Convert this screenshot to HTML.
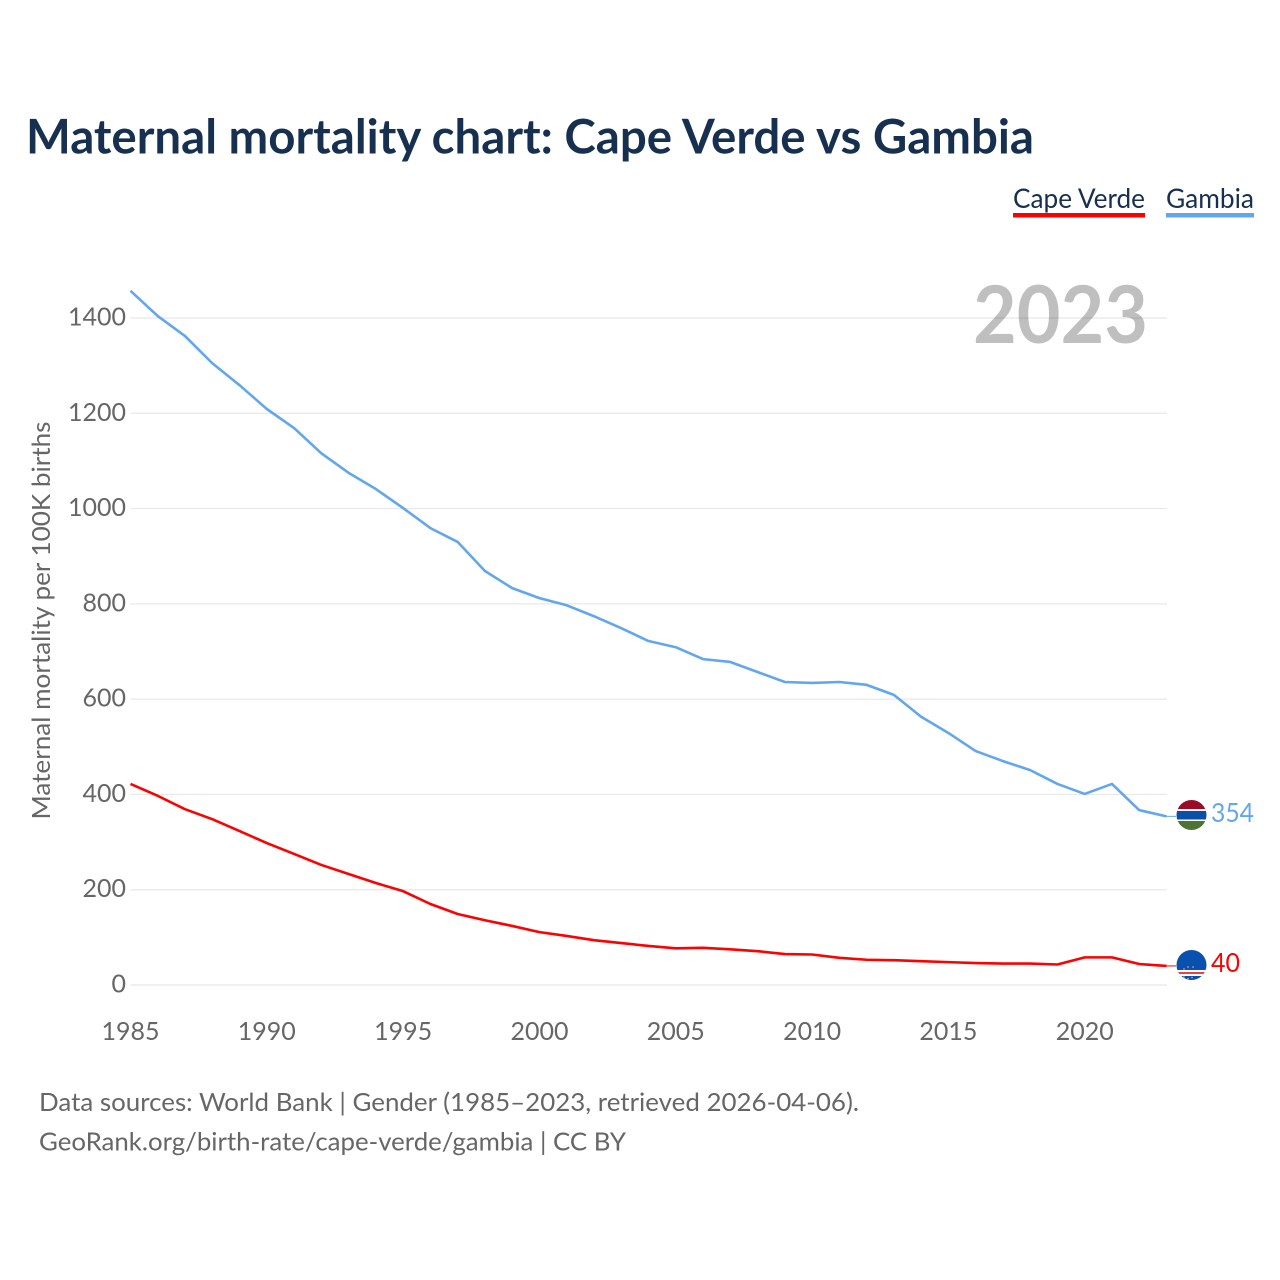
<!DOCTYPE html>
<html lang="en">
<head>
<meta charset="utf-8">
<title>Maternal mortality chart: Cape Verde vs Gambia</title>
<style>
html,body{margin:0;padding:0;background:#fff;width:1280px;height:1280px;overflow:hidden}
svg{display:block}
text{font-family:"Lato","Carlito","Liberation Sans",sans-serif}
</style>
</head>
<body>
<svg id="chart" width="1280" height="1280" viewBox="0 0 1280 1280" xmlns="http://www.w3.org/2000/svg">
  <defs>
    <clipPath id="clip-gm"><circle cx="1191.5" cy="815" r="15"/></clipPath>
    <clipPath id="clip-cv"><circle cx="1191.5" cy="965" r="15"/></clipPath>
  </defs>
  <rect width="1280" height="1280" fill="#fff"/>
  <text x="26" y="153.5" font-size="48" font-weight="700" fill="#17304f" textLength="1008" lengthAdjust="spacingAndGlyphs">Maternal mortality chart: Cape Verde vs Gambia</text>

  <g>
    <g>
      <text x="1013" y="208" font-size="27.5" fill="#17304f" textLength="132" lengthAdjust="spacingAndGlyphs">Cape Verde</text>
      <rect x="1013" y="213" width="132" height="4.5" fill="#ff0000"/>
    </g>
    <g>
      <text x="1166" y="208" font-size="27.5" fill="#17304f" textLength="88" lengthAdjust="spacingAndGlyphs">Gambia</text>
      <rect x="1166" y="213" width="88" height="4.5" fill="#62a6ee"/>
    </g>
  </g>

  <g id="grid"></g>
  <g id="y-ticks"></g>
  <g id="x-ticks"></g>

  <text transform="translate(50,620.5) rotate(-90)" text-anchor="middle" font-size="25.5" fill="#666" textLength="398" lengthAdjust="spacingAndGlyphs">Maternal mortality per 100K births</text>

  <text x="973" y="343" font-size="80" font-weight="700" fill="#000" fill-opacity="0.25" textLength="175" lengthAdjust="spacingAndGlyphs">2023</text>

  <g id="series"></g>

  <g clip-path="url(#clip-gm)">
    <rect x="1176" y="800" width="31" height="11" fill="#9c0a25"/>
    <rect x="1176" y="809" width="31" height="12" fill="#fff"/>
    <rect x="1176" y="811" width="31" height="8.5" fill="#0b50a8"/>
    <rect x="1176" y="821" width="31" height="10" fill="#4f7334"/>
  </g>
  <g clip-path="url(#clip-cv)">
    <rect x="1176" y="950" width="31" height="31" fill="#0a50ae"/>
    <rect x="1176" y="970" width="31" height="6" fill="#fff"/>
    <rect x="1176" y="972" width="31" height="2" fill="#e8414a"/>
    <g fill="#f2b27a">
      <circle cx="1184" cy="969" r="0.8"/>
      <circle cx="1188" cy="967" r="0.8"/>
      <circle cx="1193" cy="967" r="0.8"/>
      <circle cx="1184" cy="977" r="0.8"/>
      <circle cx="1188" cy="978.5" r="0.8"/>
      <circle cx="1192" cy="977.5" r="0.8"/>
    </g>
  </g>

  <text id="value-gm" x="1211" y="822" font-size="26" fill="#62a6ee" textLength="43" lengthAdjust="spacingAndGlyphs"></text>
  <text id="value-cv" x="1211" y="972" font-size="26" fill="#ff0000" textLength="29" lengthAdjust="spacingAndGlyphs"></text>

  <text x="39" y="1111" font-size="25.5" fill="#666" textLength="820" lengthAdjust="spacingAndGlyphs">Data sources: World Bank | Gender (1985–2023, retrieved 2026-04-06).</text>
  <text x="39" y="1150.5" font-size="25.5" fill="#666" textLength="587" lengthAdjust="spacingAndGlyphs">GeoRank.org/birth-rate/cape-verde/gambia | CC BY</text>
</svg>
<script>
const years = [1985,1986,1987,1988,1989,1990,1991,1992,1993,1994,1995,1996,1997,1998,1999,2000,2001,2002,2003,2004,2005,2006,2007,2008,2009,2010,2011,2012,2013,2014,2015,2016,2017,2018,2019,2020,2021,2022,2023];
const gambia = [1457,1404,1362,1305,1259,1209,1169,1116,1075,1041,1001,959,930,869,833,812,797,774,749,722,709,684,678,657,636,634,636,630,609,563,529,491,470,451,422,401,422,367,354];
const capeVerde = [422,397,369,348,323,298,275,252,233,214,197,170,149,136,124,111,103,94,88,82,77,78,75,71,65,64,57,53,52,50,48,46,45,45,43,58,58,44,40];
const yTickValues = [0,200,400,600,800,1000,1200,1400];
const xTickValues = [1985,1990,1995,2000,2005,2010,2015,2020];

const NS = 'http://www.w3.org/2000/svg';
function xScale(year) { return 130.5 + (year - 1985) * (1166.5 - 130.5) / 38; }
function yScale(value) { return 985 - value * (985 - 318) / 1400; }

const gridGroup = document.getElementById('grid');
const yTickGroup = document.getElementById('y-ticks');
const xTickGroup = document.getElementById('x-ticks');
const seriesGroup = document.getElementById('series');

yTickValues.forEach(function (v) {
  const line = document.createElementNS(NS, 'line');
  
  
  line.setAttribute('x1', 130.5);
  line.setAttribute('x2', 1167);
  line.setAttribute('y1', yScale(v));
  line.setAttribute('y2', yScale(v));
  line.setAttribute('stroke', '#e8e8e8');
  line.setAttribute('stroke-width', '1.2');
  gridGroup.appendChild(line);

  const label = document.createElementNS(NS, 'text');
  
  
  label.setAttribute('x', 126);
  label.setAttribute('y', yScale(v) + 7.5);
  label.setAttribute('text-anchor', 'end');
  label.setAttribute('font-size', '25');
  label.setAttribute('fill', '#666');
  label.textContent = String(v);
  yTickGroup.appendChild(label);
});

xTickValues.forEach(function (y) {
  const label = document.createElementNS(NS, 'text');
  
  
  label.setAttribute('x', xScale(y));
  label.setAttribute('y', 1040);
  label.setAttribute('text-anchor', 'middle');
  label.setAttribute('font-size', '25');
  label.setAttribute('fill', '#666');
  label.textContent = String(y);
  xTickGroup.appendChild(label);
});

function linePath(values) {
  return values.map(function (v, i) {
    return (i ? 'L' : 'M') + xScale(years[i]).toFixed(2) + ' ' + yScale(v).toFixed(2);
  }).join(' ');
}

const gambiaLine = document.createElementNS(NS, 'path');


gambiaLine.setAttribute('d', linePath(gambia));
gambiaLine.setAttribute('fill', 'none');
gambiaLine.setAttribute('stroke', '#62a6ee');
gambiaLine.setAttribute('stroke-width', '2.6');
gambiaLine.setAttribute('stroke-linejoin', 'round');
seriesGroup.appendChild(gambiaLine);

const capeVerdeLine = document.createElementNS(NS, 'path');


capeVerdeLine.setAttribute('d', linePath(capeVerde));
capeVerdeLine.setAttribute('fill', 'none');
capeVerdeLine.setAttribute('stroke', '#ff0000');
capeVerdeLine.setAttribute('stroke-width', '2.6');
capeVerdeLine.setAttribute('stroke-linejoin', 'round');
seriesGroup.appendChild(capeVerdeLine);

const gambiaLast = gambia[gambia.length - 1];
const capeVerdeLast = capeVerde[capeVerde.length - 1];

const gambiaLeader = document.createElementNS(NS, 'line');


gambiaLeader.setAttribute('x1', 1166.5);
gambiaLeader.setAttribute('x2', 1176);
gambiaLeader.setAttribute('y1', yScale(gambiaLast));
gambiaLeader.setAttribute('y2', yScale(gambiaLast));
gambiaLeader.setAttribute('stroke', '#62a6ee');
gambiaLeader.setAttribute('stroke-width', '1');
seriesGroup.appendChild(gambiaLeader);

const capeVerdeLeader = document.createElementNS(NS, 'line');


capeVerdeLeader.setAttribute('x1', 1166.5);
capeVerdeLeader.setAttribute('x2', 1176);
capeVerdeLeader.setAttribute('y1', yScale(capeVerdeLast));
capeVerdeLeader.setAttribute('y2', yScale(capeVerdeLast));
capeVerdeLeader.setAttribute('stroke', '#ff0000');
capeVerdeLeader.setAttribute('stroke-width', '1');
seriesGroup.appendChild(capeVerdeLeader);

document.getElementById('value-gm').textContent = String(gambiaLast);
document.getElementById('value-cv').textContent = String(capeVerdeLast);
</script>
</body>
</html>
